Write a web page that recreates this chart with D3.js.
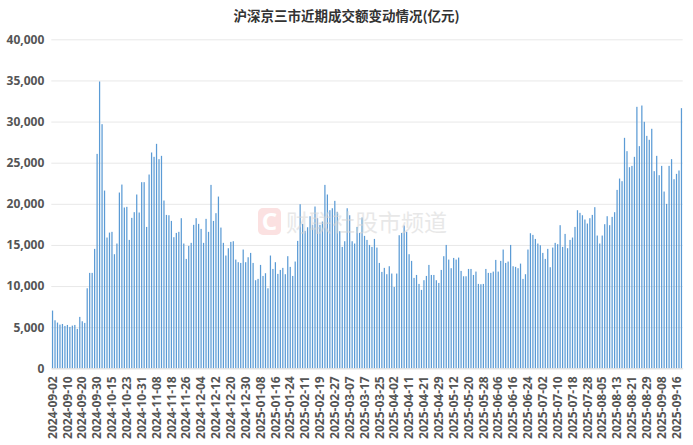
<!DOCTYPE html>
<html>
<head>
<meta charset="utf-8">
<script src="https://cdn.jsdelivr.net/npm/d3@7"></script>
<style>
  body { margin: 0; background: #fff; }
  svg { display: block; }
</style>
</head>
<body>
<div id="chart"></div>
<script>
const title = '沪深京三市近期成交额变动情况(亿元)';

// trading days, one per bar
const dates = [
  '2024-09-02','2024-09-03','2024-09-04','2024-09-05','2024-09-06','2024-09-09','2024-09-10','2024-09-11','2024-09-12','2024-09-13',
  '2024-09-18','2024-09-19','2024-09-20','2024-09-23','2024-09-24','2024-09-25','2024-09-26','2024-09-27','2024-09-30',
  '2024-10-08','2024-10-09','2024-10-10','2024-10-11','2024-10-14','2024-10-15','2024-10-16','2024-10-17','2024-10-18',
  '2024-10-21','2024-10-22','2024-10-23','2024-10-24','2024-10-25','2024-10-28','2024-10-29','2024-10-30','2024-10-31',
  '2024-11-01','2024-11-04','2024-11-05','2024-11-06','2024-11-07','2024-11-08','2024-11-11','2024-11-12','2024-11-13',
  '2024-11-14','2024-11-15','2024-11-18','2024-11-19','2024-11-20','2024-11-21','2024-11-22','2024-11-25','2024-11-26',
  '2024-11-27','2024-11-28','2024-11-29',
  '2024-12-02','2024-12-03','2024-12-04','2024-12-05','2024-12-06','2024-12-09','2024-12-10','2024-12-11','2024-12-12',
  '2024-12-13','2024-12-16','2024-12-17','2024-12-18','2024-12-19','2024-12-20','2024-12-23','2024-12-24','2024-12-25',
  '2024-12-26','2024-12-27','2024-12-30','2024-12-31',
  '2025-01-02','2025-01-03','2025-01-06','2025-01-07','2025-01-08','2025-01-09','2025-01-10','2025-01-13','2025-01-14',
  '2025-01-15','2025-01-16','2025-01-17','2025-01-20','2025-01-21','2025-01-22','2025-01-23','2025-01-24','2025-01-27',
  '2025-02-05','2025-02-06','2025-02-07','2025-02-10','2025-02-11','2025-02-12','2025-02-13','2025-02-14','2025-02-17',
  '2025-02-18','2025-02-19','2025-02-20','2025-02-21','2025-02-24','2025-02-25','2025-02-26','2025-02-27','2025-02-28',
  '2025-03-03','2025-03-04','2025-03-05','2025-03-06','2025-03-07','2025-03-10','2025-03-11','2025-03-12','2025-03-13',
  '2025-03-14','2025-03-17','2025-03-18','2025-03-19','2025-03-20','2025-03-21','2025-03-24','2025-03-25','2025-03-26',
  '2025-03-27','2025-03-28','2025-03-31',
  '2025-04-01','2025-04-02','2025-04-03','2025-04-07','2025-04-08','2025-04-09','2025-04-10','2025-04-11','2025-04-14',
  '2025-04-15','2025-04-16','2025-04-17','2025-04-18','2025-04-21','2025-04-22','2025-04-23','2025-04-24','2025-04-25',
  '2025-04-28','2025-04-29','2025-04-30',
  '2025-05-06','2025-05-07','2025-05-08','2025-05-09','2025-05-12','2025-05-13','2025-05-14','2025-05-15','2025-05-16',
  '2025-05-19','2025-05-20','2025-05-21','2025-05-22','2025-05-23','2025-05-26','2025-05-27','2025-05-28','2025-05-29',
  '2025-05-30',
  '2025-06-03','2025-06-04','2025-06-05','2025-06-06','2025-06-09','2025-06-10','2025-06-11','2025-06-12','2025-06-13',
  '2025-06-16','2025-06-17','2025-06-18','2025-06-19','2025-06-20','2025-06-23','2025-06-24','2025-06-25','2025-06-26',
  '2025-06-27','2025-06-30',
  '2025-07-01','2025-07-02','2025-07-03','2025-07-04','2025-07-07','2025-07-08','2025-07-09','2025-07-10','2025-07-11',
  '2025-07-14','2025-07-15','2025-07-16','2025-07-17','2025-07-18','2025-07-21','2025-07-22','2025-07-23','2025-07-24',
  '2025-07-25','2025-07-28','2025-07-29','2025-07-30','2025-07-31',
  '2025-08-01','2025-08-04','2025-08-05','2025-08-06','2025-08-07','2025-08-08','2025-08-11','2025-08-12','2025-08-13',
  '2025-08-14','2025-08-15','2025-08-18','2025-08-19','2025-08-20','2025-08-21','2025-08-22','2025-08-25','2025-08-26',
  '2025-08-27','2025-08-28','2025-08-29',
  '2025-09-01','2025-09-02','2025-09-03','2025-09-04','2025-09-05','2025-09-08','2025-09-09','2025-09-10','2025-09-11',
  '2025-09-12','2025-09-15','2025-09-16','2025-09-17','2025-09-18'
];

// turnover, 亿元
const turnover = [
  7020, 5840, 5560, 5310, 5390, 5150, 5270, 5030, 5190, 5270,
  4790, 6250, 5720, 5520, 9730, 11600, 11600, 14520, 26070,
  34870, 29680, 21610, 15900, 16500, 16590, 13870, 15170, 21370,
  22340, 19550, 19630, 15610, 18290, 18980, 21130, 18940, 22630,
  22630, 17190, 23560, 26240, 25710, 27290, 25430, 25830, 20400,
  18650, 18610, 17920, 15940, 16460, 16590, 18250, 15170, 13300,
  14880, 15250, 17440,
  18250, 17560, 16950, 15250, 18170, 16590, 22300, 17920, 18860,
  20880, 17110, 15250, 13710, 14600, 15370, 15450, 13220, 12900,
  12810, 14440, 12900, 13500,
  14030, 12810, 10710, 10870, 12570, 11230, 11560, 9730, 13710,
  12080, 12900, 11480, 11960, 12210, 11440, 13630, 12330, 11230,
  12980, 15490, 19950, 17560, 16710, 17150, 18490, 17440, 19670,
  18250, 17440, 17840, 22300, 21130, 19220, 19460, 20360, 19020,
  16670, 14760, 15450, 19460, 18610, 15450, 15170, 17190, 16460,
  18330, 16100, 15610, 15000, 14760, 15730, 14680, 12810, 11720,
  12210, 11440, 12410,
  11520, 9890, 11520, 16180, 16460, 17360, 16590, 13870, 13060,
  10990, 11350, 10260, 9530, 10710, 11230, 12570, 11350, 11350,
  10710, 10380, 11960,
  13630, 15000, 13220, 12170, 13420, 13220, 13460, 11840, 11190,
  11190, 12080, 12080, 11350, 11760, 10260, 10220, 10260, 12080,
  11600,
  11600, 11760, 13180, 11760, 13060, 14440, 12810, 12980, 15000,
  12410, 12330, 12170, 12730, 10870, 11440, 14440, 16420, 16220,
  15730, 15170,
  14960, 14030, 13300, 14520, 12290, 14680, 15250, 15090, 17400,
  14760, 16340, 14600, 15610, 15900, 17190, 19220, 18900, 18610,
  18090, 17600, 18250, 18650, 19590,
  16140, 15170, 16140, 17520, 18490, 17400, 18410, 18980, 21690,
  23070, 22750, 28020, 26400, 24450, 24610, 25710, 31790, 27010,
  31950, 29970, 28260,
  27780, 29120, 23970, 25830, 23480, 24610, 21490, 19990, 24610,
  25430, 22990, 23640, 24050, 31630
];

const yTicks = [0, 5000, 10000, 15000, 20000, 25000, 30000, 35000, 40000];
const xTickLabels = [
  '2024-09-02','2024-09-10','2024-09-20','2024-09-30','2024-10-15','2024-10-23','2024-10-31','2024-11-08',
  '2024-11-18','2024-11-26','2024-12-04','2024-12-12','2024-12-20','2024-12-30','2025-01-08','2025-01-16',
  '2025-01-24','2025-02-11','2025-02-19','2025-02-27','2025-03-07','2025-03-17','2025-03-25','2025-04-02',
  '2025-04-11','2025-04-21','2025-04-29','2025-05-12','2025-05-20','2025-05-28','2025-06-06','2025-06-16',
  '2025-06-24','2025-07-02','2025-07-10','2025-07-18','2025-07-28','2025-08-05','2025-08-13','2025-08-21',
  '2025-08-29','2025-09-08','2025-09-16'
];

const width = 693, height = 445;
const margin = {top: 39.3, right: 10.3, bottom: 76.7, left: 51.3};
const font = '"Noto Sans", "Noto Sans CJK SC", sans-serif';

const data = dates.map((d, i) => ({date: d, value: turnover[i]}));

const svg = d3.select('#chart').append('svg')
  .attr('width', width)
  .attr('height', height);

const x = d3.scaleBand()
  .domain(dates)
  .range([margin.left, width - margin.right])
  .paddingInner(0.5)
  .paddingOuter(0.25);

const y = d3.scaleLinear()
  .domain([0, 40000])
  .range([height - margin.bottom, margin.top]);

// title
svg.append('text')
  .attr('x', width / 2)
  .attr('y', 21)
  .attr('text-anchor', 'middle')
  .attr('font-family', '"Noto Sans CJK SC", sans-serif')
  .attr('font-size', 13.5)
  .attr('font-weight', 'bold')
  .attr('fill', '#333')
  .text(title);

// grid + y labels
const yAxis = d3.axisLeft(y)
  .tickValues(yTicks)
  .tickSize(-(width - margin.left - margin.right))
  .tickPadding(7)
  .tickFormat(d3.format(','));

svg.append('g')
  .attr('transform', `translate(${margin.left},0)`)
  .call(yAxis)
  .call(g => g.select('.domain').remove())
  .call(g => g.selectAll('.tick line').attr('stroke', '#e8e8e8'))
  .call(g => g.selectAll('.tick text')
    .attr('font-family', font)
    .attr('font-size', 12)
    .attr('font-weight', 'bold')
    .attr('fill', '#555'));

// bars
svg.append('g')
  .selectAll('rect')
  .data(data)
  .join('rect')
  .attr('x', d => x(d.date))
  .attr('y', d => y(d.value))
  .attr('width', x.bandwidth())
  .attr('height', d => y(0) - y(d.value))
  .attr('fill', '#5b9bd5');

// x labels
const xAxis = d3.axisBottom(x)
  .tickValues(xTickLabels)
  .tickSize(0)
  .tickPadding(0);

svg.append('g')
  .attr('transform', `translate(0,${y(0)})`)
  .call(xAxis)
  .call(g => g.select('.domain').attr('stroke', '#e0e0e0'))
  .call(g => g.selectAll('.tick text')
    .attr('font-family', font)
    .attr('font-size', 12)
    .attr('font-weight', 'bold')
    .attr('fill', '#555')
    .attr('text-anchor', 'end')
    .attr('dy', '0.35em')
    .attr('transform', 'translate(0,8) rotate(-90)'));

// watermark
const wm = svg.append('g').attr('opacity', 0.55);
wm.append('rect')
  .attr('x', 258).attr('y', 208)
  .attr('width', 23).attr('height', 27)
  .attr('rx', 5)
  .attr('fill', '#f8c9c9');
wm.append('text')
  .attr('x', 269.5).attr('y', 230)
  .attr('text-anchor', 'middle')
  .attr('font-family', font)
  .attr('font-size', 24)
  .attr('font-weight', 'bold')
  .attr('fill', '#fff')
  .text('C');
wm.append('text')
  .attr('x', 286).attr('y', 231)
  .attr('font-family', '"Noto Sans CJK SC", sans-serif')
  .attr('font-size', 23)
  .attr('fill', '#d6d6d6')
  .text('财联社股市频道');
</script>
</body>
</html>
